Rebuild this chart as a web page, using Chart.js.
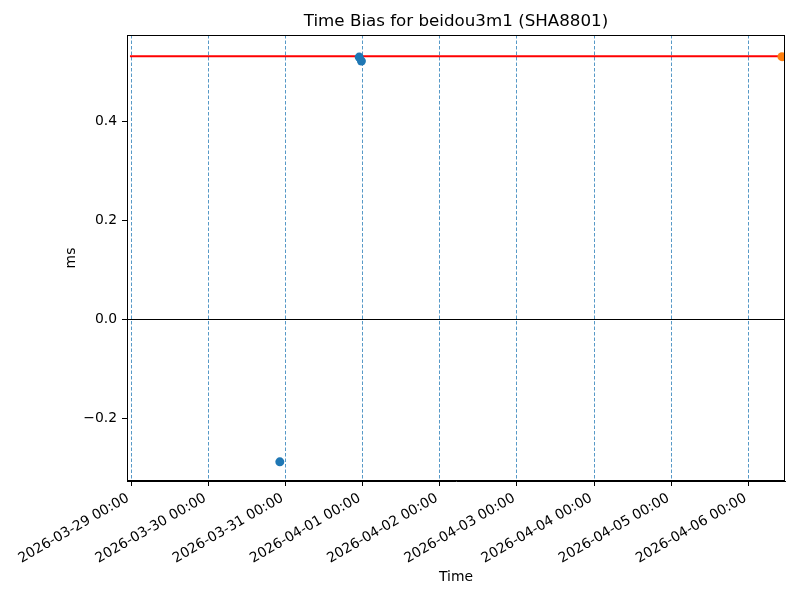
<!DOCTYPE html>
<html>
<head>
<meta charset="utf-8">
<script src="https://cdn.jsdelivr.net/npm/chart.js"></script>
<style>
  html, body { margin: 0; padding: 0; background: #fff; }
  #wrap { width: 800px; height: 600px; }
</style>
</head>
<body>
<div id="wrap"><canvas id="chart" width="800" height="600"></canvas></div>
<script>
// data (times are UTC)
const blueTimes = ["2026-03-30 22:16", "2026-03-31 22:57", "2026-03-31 23:38"];
const blueValues = [-0.287, 0.529, 0.521];
const orangeTimes = ["2026-04-06 10:23"];
const orangeValues = [0.530];
const refLineTimes = ["2026-03-28 23:40", "2026-04-06 10:23"];
const refLineValue = 0.531;
const dayTicks = ["2026-03-29 00:00", "2026-03-30 00:00", "2026-03-31 00:00", "2026-04-01 00:00",
  "2026-04-02 00:00", "2026-04-03 00:00", "2026-04-04 00:00", "2026-04-05 00:00", "2026-04-06 00:00"];
const yTicks = [-0.2, 0.0, 0.2, 0.4];
const xLimits = ["2026-03-28 22:45", "2026-04-06 11:20"];
const yLimits = [-0.3256, 0.5736];

function toMs(s) {
  const [d, t] = s.split(" ");
  const [y, m, day] = d.split("-").map(Number);
  const [hh, mm] = t.split(":").map(Number);
  return Date.UTC(y, m - 1, day, hh, mm);
}

function fmtTime(ms) {
  const d = new Date(ms);
  const p = (n) => String(n).padStart(2, "0");
  return `${d.getUTCFullYear()}-${p(d.getUTCMonth() + 1)}-${p(d.getUTCDate())} ${p(d.getUTCHours())}:${p(d.getUTCMinutes())}`;
}

const xMin = toMs(xLimits[0]);
const xMax = toMs(xLimits[1]);

const framePlugin = {
  id: "frame",
  afterDraw(chart) {
    const { ctx, chartArea } = chart;
    const l = Math.round(chartArea.left), r = Math.round(chartArea.right);
    const t = Math.round(chartArea.top), b = Math.round(chartArea.bottom);
    ctx.save();
    ctx.fillStyle = "#000";
    ctx.fillRect(l, t, r - l, 1);
    ctx.fillRect(l, b - 1, r - l, 1);
    ctx.fillRect(l, t, 1, b - t);
    ctx.fillRect(r - 1, t, 1, b - t);
    // title centred over the axes, like matplotlib
    ctx.font = "16.7px 'DejaVu Sans'";
    ctx.textAlign = "center";
    ctx.textBaseline = "middle";
    ctx.fillText("Time Bias for beidou3m1 (SHA8801)", (l + r) / 2, 22);
    ctx.restore();
  },
};

Chart.defaults.font.family = "'DejaVu Sans', sans-serif";
Chart.defaults.font.size = 13.9;
Chart.defaults.color = "#000";

new Chart(document.getElementById("chart"), {
  type: "scatter",
  data: {
    datasets: [
      {
        data: blueTimes.map((t, i) => ({ x: toMs(t), y: blueValues[i] })),
        backgroundColor: "#1f77b4",
        borderWidth: 0,
        pointRadius: 4.5,
      },
      {
        data: orangeTimes.map((t, i) => ({ x: toMs(t), y: orangeValues[i] })),
        backgroundColor: "#ff7f0e",
        borderWidth: 0,
        pointRadius: 4.5,
      },
      {
        data: refLineTimes.map((t) => ({ x: toMs(t), y: refLineValue })),
        showLine: true,
        borderColor: "#ff0000",
        borderWidth: 2,
        pointRadius: 0,
      },
      {
        data: [{ x: xMin, y: 0 }, { x: xMax, y: 0 }],
        showLine: true,
        borderColor: "#000",
        borderWidth: 1,
        pointRadius: 0,
      },
    ],
  },
  options: {
    responsive: false,
    animation: false,
    layout: { padding: { top: 35, right: 15, bottom: 0, left: 0 } },
    plugins: {
      legend: { display: false },
      tooltip: { enabled: false },
      title: { display: false },
    },
    scales: {
      x: {
        type: "linear",
        min: xMin,
        max: xMax,
        afterBuildTicks: (scale) => {
          scale.ticks = dayTicks.map((t) => ({ value: toMs(t) }));
        },
        afterFit: (scale) => {
          scale.height = 119;
          scale.paddingLeft = 0;
          scale.paddingRight = 0;
        },
        ticks: {
          autoSkip: false,
          minRotation: 30,
          maxRotation: 30,
          padding: 4,
          labelOffset: -3,
          callback: (v) => fmtTime(v),
        },
        grid: {
          color: "rgba(31,119,180,0.75)",
          lineWidth: 1,
          tickColor: "#000",
          tickLength: 5,
          tickWidth: 1,
          tickBorderDash: [],
        },
        border: { color: "#000", dash: [3.5, 2] },
        title: { display: true, text: "Time", padding: { top: 0, bottom: 14 } },
      },
      y: {
        min: yLimits[0],
        max: yLimits[1],
        afterBuildTicks: (scale) => {
          scale.ticks = yTicks.map((v) => ({ value: v }));
        },
        afterFit: (scale) => {
          scale.width = 127;
        },
        ticks: {
          padding: 5,
          callback: (v) => (v < 0 ? "\u2212" + Math.abs(v).toFixed(1) : v.toFixed(1)),
        },
        grid: {
          drawOnChartArea: false,
          tickColor: "#000",
          tickLength: 5,
        },
        border: { color: "#000" },
        title: { display: true, text: "ms", padding: { top: 63, bottom: 0 } },
      },
    },
  },
  plugins: [framePlugin],
});
</script>
</body>
</html>
